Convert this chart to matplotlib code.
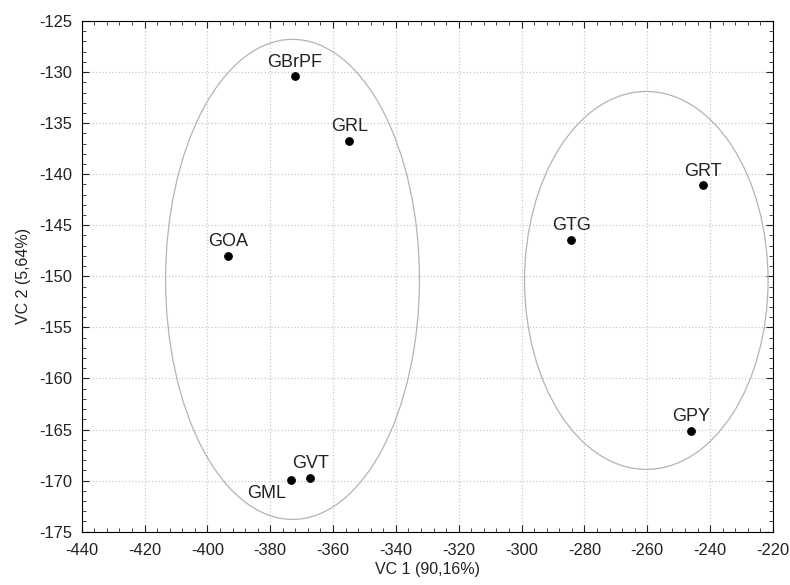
import numpy as np
import matplotlib.pyplot as plt
from matplotlib.patches import Ellipse
from matplotlib.ticker import MultipleLocator

names = ['GBrPF', 'GRL', 'GOA', 'GTG', 'GRT', 'GPY', 'GML', 'GVT']
vc1 = [-372.2, -354.8, -393.4, -284.2, -242.3, -246.1, -373.5, -367.3]
vc2 = [-130.4, -136.7, -148.0, -146.4, -141.1, -165.1, -169.9, -169.7]

# groups: centre x, centre y, width, height
ell_cx = [-372.9, -260.3]
ell_cy = [-150.3, -150.4]
ell_w = [80.8, 77.5]
ell_h = [47.0, 37.0]

plt.rcParams['font.family'] = ['Liberation Sans', 'DejaVu Sans']
plt.rcParams['axes.unicode_minus'] = False

fig = plt.figure(figsize=(7.9, 5.85), dpi=100)
ax = fig.add_axes([0.1034, 0.0911, 0.875, 0.873])

ax.grid(True, which='major', color='#c8c8c8', linestyle=':', linewidth=0.9)
ax.set_axisbelow(True)

for cx, cy, w, h in zip(ell_cx, ell_cy, ell_w, ell_h):
    ax.add_patch(Ellipse((cx, cy), w, h, fill=False, edgecolor='#b4b4b4', linewidth=0.9))

ax.scatter(vc1, vc2, s=28, color='black', zorder=3)

for n, x, y in zip(names, vc1, vc2):
    if n == 'GML':
        ax.annotate(n, (x, y), xytext=(-3, -4), textcoords='offset points',
                    ha='right', va='top', fontsize=13, color='#222222')
    else:
        ax.annotate(n, (x, y), xytext=(0, 4), textcoords='offset points',
                    ha='center', va='bottom', fontsize=13, color='#222222')

ax.set_xlim(-440, -220)
ax.set_ylim(-175, -125)
ax.xaxis.set_major_locator(MultipleLocator(20))
ax.xaxis.set_minor_locator(MultipleLocator(4))
ax.yaxis.set_major_locator(MultipleLocator(5))
ax.yaxis.set_minor_locator(MultipleLocator(1))
ax.tick_params(which='both', direction='in', top=True, right=True, labelsize=11.9,
               colors='#222222')
ax.tick_params(which='major', length=5)
ax.tick_params(which='minor', length=3)
ax.tick_params(axis='x', pad=8)
ax.tick_params(axis='y', pad=7)

ax.set_xlabel('VC 1 (90,16%)', fontsize=11.5, color='#222222', labelpad=3)
ax.set_ylabel('VC 2 (5,64%)', fontsize=11.5, color='#222222', labelpad=6)

plt.savefig('out.png', dpi=100)
